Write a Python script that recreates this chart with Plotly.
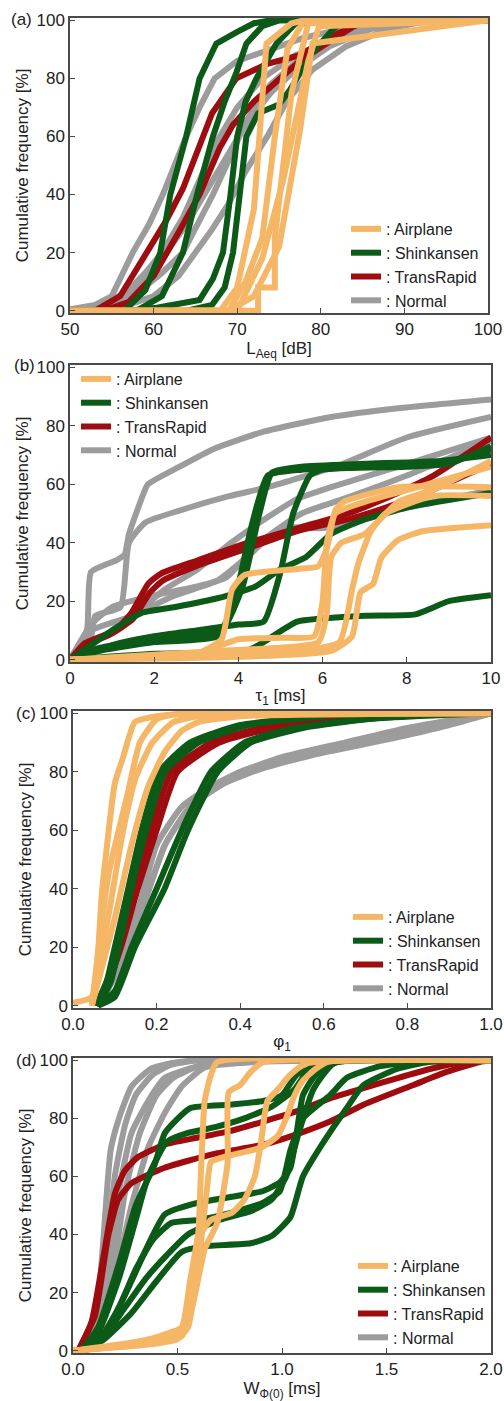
import plotly.graph_objects as go

# ---------------- data ----------------
CATEGORIES = ["Airplane", "Shinkansen", "TransRapid", "Normal"]
COLORS = {"Airplane": "#F5B666", "Shinkansen": "#0C5A17", "TransRapid": "#9E0C10", "Normal": "#9C9C9C"}
DRAW_ORDER = ["Normal", "TransRapid", "Shinkansen", "Airplane"]

# (a) LAeq [dB]
A_AIRPLANE = [
    ([50, 68, 70, 72, 73.5, 76.5, 78, 100], [0, 0, 8, 35, 92, 99, 100, 100]),
    ([50, 69, 71, 73, 74.5, 76, 78, 100], [0, 0, 10, 25, 60, 90, 100, 100]),
    ([50, 72.5, 72.5, 74.5, 74.5, 76.5, 78.5, 100], [0, 0, 8, 8, 25, 75, 99, 100]),
    ([50, 69, 72, 75, 77.5, 79, 100], [0, 0, 5, 22, 62, 92, 100]),
    ([50, 70, 73, 75.5, 78.5, 79.8, 100], [0, 0, 18, 45, 86, 98, 100]),
]
A_SHINKANSEN = [
    ([50, 56.5, 59, 60.8, 62, 63.9, 65.5, 67.5, 70, 72, 74, 100], [0, 0, 7, 20, 40, 60, 80, 92, 96, 99, 100, 100]),
    ([50, 58, 61, 63.5, 65.2, 67.1, 68.5, 69.9, 71.1, 73, 75, 100], [0, 0, 5, 20, 40, 60, 72, 82, 92, 98, 100, 100]),
    ([50, 57, 60.4, 65.5, 67.1, 68.3, 69.2, 70, 71, 72.3, 74.7, 77, 100], [0, 0, 1, 3.7, 11, 20, 40, 60, 72, 80, 92, 99, 100]),
    ([50, 64, 67, 68.5, 69.5, 70.3, 71.1, 72.5, 75, 76.3, 79, 81.5, 83, 100], [0, 0, 2, 8, 20, 40, 60, 68, 71, 76, 89, 97, 100, 100]),
]
A_TRANSRAPID = [
    ([50, 53, 56, 59.2, 61.5, 63.5, 65.3, 67, 69.9, 73.6, 77.5, 81, 85, 100], [0, 0, 5, 20, 31, 42, 56, 68, 80, 85, 88, 94, 99.5, 100]),
    ([50, 54, 57, 60, 63, 65.5, 67.9, 69.5, 72, 74.7, 77.5, 81.5, 84, 86, 100], [0, 0, 3, 12, 27, 40, 56, 64, 72, 79, 86, 93.6, 98, 100, 100]),
]
A_NORMAL = [
    ([50, 53, 55, 57.5, 59.5, 61.1, 62.5, 63.9, 65.5, 67.3, 70, 74, 78, 84, 90, 100], [0.5, 2, 5, 20, 30, 40, 50, 60, 70, 80, 86, 90, 94, 98, 100, 100]),
    ([50, 54, 57, 59, 61, 63.5, 65.5, 67.5, 70, 73, 77, 82, 88, 100], [0, 2, 7, 13, 20, 32, 45, 58, 70, 80, 88, 94, 99, 100]),
    ([50, 55, 58, 61, 63.5, 65, 67.1, 69.5, 71, 74, 78, 83, 89, 100], [0, 1.5, 6, 13, 20, 28, 40, 55, 65, 78, 88, 95, 99.5, 100]),
    ([50, 56, 60, 63, 65, 67, 69, 71, 73.6, 75.9, 79, 83, 88, 93, 100], [0, 1, 5, 12, 20, 28, 37, 48, 60, 72, 83, 91, 97, 100, 100]),
    ([50, 55, 58, 61, 64, 66, 68.5, 71, 74, 77, 81, 86, 92, 100], [0, 2, 8, 18, 30, 40, 52, 64, 75, 83, 91, 97, 100, 100]),
]

# (b) tau1 [ms]
B_AIRPLANE = [
    ([0, 3, 3.6, 3.85, 4.15, 5.4, 5.9, 6.1, 6.3, 6.5, 7.8, 10], [0, 2, 7, 24, 29, 31, 32, 38, 51, 54, 59, 59]),
    ([0, 3.5, 5.9, 6.1, 6.2, 6.45, 7, 7.8, 8.6, 10], [0, 3, 6, 16, 35, 40, 43, 54, 58, 68]),
    ([0, 5.4, 6.4, 6.7, 6.85, 7.15, 7.5, 8.6, 10], [0, 3, 6, 24, 33, 44, 50, 56, 56]),
    ([0, 6.2, 6.7, 6.9, 7.2, 7.4, 7.8, 8.4, 10], [0, 3, 8, 23, 26, 35, 41, 44, 46]),
    ([0, 3, 4, 5, 5.8, 6.0, 6.1, 6.3, 7, 8, 10], [0, 2, 7, 7.5, 8, 20, 40, 50, 54, 58, 66]),
]
B_SHINKANSEN = [
    ([0, 0.7, 2, 3.5, 3.9, 4.3, 4.7, 5.5, 7, 8.8, 10], [0, 3, 6, 8, 20, 45, 63, 65, 66, 67, 72]),
    ([0, 0.7, 2, 3.6, 4.1, 4.5, 4.8, 5.5, 7, 8.8, 10], [0, 4, 7, 10, 25, 50, 64, 66, 67, 68, 70]),
    ([0, 1, 2, 3, 4, 4.6, 5, 5.3, 5.7, 6, 8, 9, 10], [0, 5, 8, 10, 12, 13, 30, 50, 63, 65, 66, 67, 73]),
    ([0, 0.5, 1, 1.7, 2.5, 3.5, 4.4, 5, 5.6, 6.2, 7, 8, 10], [0, 5, 10, 16, 18, 21, 25, 31, 35, 43, 48, 52, 57]),
    ([0, 2, 4.2, 4.6, 5.4, 7, 8.2, 9, 10], [0, 2, 3, 6, 13, 15, 15.5, 20, 22]),
]
B_TRANSRAPID = [
    ([0, 0.36, 1.07, 1.46, 1.86, 2.17, 3.04, 4.23, 5.41, 6.6, 7.39, 8.58, 10], [0, 5.7, 10, 16, 26, 29.5, 34, 40, 45, 50, 54.5, 62.5, 76]),
    ([0, 0.4, 1, 1.5, 1.9, 2.2, 3, 4.2, 5.4, 6.6, 7.5, 8.6, 10], [0, 5, 9, 14, 23, 27, 32, 38, 44, 48, 52, 58, 67]),
]
B_NORMAL = [
    ([0, 0.4, 0.5, 1.1, 1.3, 1.4, 1.75, 1.85, 2.6, 3.4, 4.6, 6.2, 7.8, 10], [0, 10, 30, 34, 36, 43, 57, 60, 66, 72, 78, 83, 86, 89]),
    ([0, 0.5, 0.6, 1.2, 1.4, 1.8, 2.6, 3.8, 4.7, 6.3, 8, 10], [0, 8, 15, 18, 40, 47, 51, 56, 59, 66, 76, 83]),
    ([0, 0.5, 1.46, 2.25, 3.04, 3.83, 4.62, 5.4, 6.2, 7.8, 10], [0, 10, 15, 24, 31, 40, 48, 55, 59, 66, 76]),
    ([0, 0.5, 1.5, 2.5, 3.5, 4.2, 5, 6, 7, 8, 10], [0, 5, 15, 22, 27, 35, 45, 45, 48, 52, 58]),
    ([0, 0.5, 1, 2, 3, 3.7, 4.5, 5.5, 6.5, 8, 10], [0, 12, 18, 22, 25, 28, 40, 50, 55, 63, 75]),
]

# (c) phi1
C_AIRPLANE = [
    ([0, 0.045, 0.07, 0.1, 0.12, 0.148, 0.2, 0.3, 1], [1, 3, 40, 76, 85, 97, 99, 100, 100]),
    ([0.045, 0.085, 0.13, 0.16, 0.2, 0.26, 1], [0, 45, 72, 90, 98, 100, 100]),
    ([0.045, 0.1, 0.14, 0.18, 0.22, 0.26, 0.3, 0.4, 1], [0, 30, 55, 75, 87, 94, 97, 99, 100]),
    ([0.045, 0.09, 0.12, 0.15, 0.19, 0.24, 0.3, 1], [0, 35, 60, 78, 90, 97, 99, 100]),
]
C_SHINKANSEN = [
    ([0.055, 0.08, 0.1, 0.132, 0.164, 0.207, 0.28, 0.4, 0.6, 0.8, 1], [0, 8, 20, 40, 60, 80, 90, 96, 99, 100, 100]),
    ([0.06, 0.09, 0.11, 0.14, 0.175, 0.22, 0.3, 0.42, 0.6, 0.85, 1], [0, 8, 20, 40, 60, 80, 90, 96, 99, 100, 100]),
    ([0.06, 0.1, 0.148, 0.219, 0.275, 0.346, 0.425, 0.55, 0.7, 0.9, 1], [0, 3, 20, 40, 60, 80, 90, 95, 98, 100, 100]),
    ([0.06, 0.1, 0.14, 0.2, 0.26, 0.33, 0.41, 0.53, 0.7, 0.9, 1], [0, 5, 20, 40, 60, 80, 90, 95, 98, 99.5, 100]),
]
C_TRANSRAPID = [
    ([0.055, 0.08, 0.108, 0.144, 0.187, 0.235, 0.33, 0.45, 0.65, 1], [0, 8, 20, 40, 60, 80, 90, 95, 99, 100]),
    ([0.055, 0.085, 0.115, 0.155, 0.2, 0.25, 0.35, 0.48, 0.7, 1], [0, 8, 20, 40, 60, 80, 90, 95, 99, 100]),
]
C_NORMAL = [
    ([0.06, 0.1, 0.124, 0.16, 0.2, 0.26, 0.33, 0.4, 0.5, 0.65, 0.8, 1], [0, 10, 20, 35, 55, 68, 75, 80, 85, 90, 95, 100]),
    ([0.06, 0.1, 0.13, 0.17, 0.22, 0.28, 0.36, 0.45, 0.58, 0.75, 0.9, 1], [0, 10, 20, 35, 55, 68, 76, 81, 86, 91, 96, 100]),
    ([0.06, 0.1, 0.13, 0.17, 0.22, 0.28, 0.36, 0.45, 0.6, 0.78, 1], [0, 10, 20, 35, 55, 68, 76, 82, 88, 93, 100]),
]

# (d) W_phi(0) [ms]
D_AIRPLANE = [
    ([0, 0.28, 0.44, 0.52, 0.56, 0.6, 0.61, 0.63, 0.66, 0.69, 2], [0, 2, 5.6, 8, 24, 41, 57.6, 86, 95, 99.4, 100]),
    ([0, 0.3, 0.52, 0.57, 0.63, 0.69, 0.74, 0.745, 0.8, 0.85, 0.91, 2], [0, 3, 7, 15, 35, 44, 65, 89, 91.5, 96, 99.4, 100]),
    ([0, 0.4, 0.52, 0.58, 0.61, 0.66, 0.76, 0.82, 0.87, 0.9, 0.93, 0.98, 1.04, 1.12, 2], [0, 3, 5, 20, 40, 45, 47.5, 52, 60, 72, 86, 90, 95, 99, 100]),
    ([0, 0.35, 0.5, 0.55, 0.6, 0.64, 0.66, 0.72, 0.9, 0.98, 1.02, 1.06, 1.1, 1.16, 1.22, 2], [0, 2, 4, 8, 30, 55, 65, 66.7, 70, 74, 80, 88, 93, 97, 99.5, 100]),
]
D_SHINKANSEN = [
    ([0.04, 0.12, 0.22, 0.3, 0.39, 0.44, 0.56, 0.75, 0.91, 1.0, 1.07, 1.17, 1.3, 2], [0, 8, 30, 50, 64, 75, 83.5, 84.7, 86, 88, 95, 98, 100, 100]),
    ([0.04, 0.12, 0.22, 0.3, 0.36, 0.45, 0.55, 0.68, 0.82, 0.95, 1.06, 1.13, 1.2, 2], [0, 6, 25, 45, 60, 72, 75, 77, 80, 84, 90, 97, 99.5, 100]),
    ([0.05, 0.12, 0.2, 0.28, 0.35, 0.44, 0.6, 0.76, 0.91, 0.99, 1.04, 1.07, 1.1, 1.15, 1.23, 2], [0, 3, 12, 24, 35, 47, 51, 53, 55, 58, 63, 75, 88, 94, 99, 100]),
    ([0.05, 0.12, 0.22, 0.3, 0.38, 0.47, 0.6, 0.76, 0.91, 0.99, 1.04, 1.1, 1.23, 1.31, 1.47, 1.63, 2], [0, 3, 15, 28, 38, 44, 45, 47.5, 51, 55, 69, 80, 88, 94, 98, 99.5, 100]),
    ([0.06, 0.15, 0.28, 0.4, 0.52, 0.63, 0.85, 0.95, 1.04, 1.1, 1.2, 1.31, 1.39, 1.55, 1.7, 2], [0, 4, 13, 24, 34, 36, 37, 39.5, 46, 60, 72, 83.6, 91.5, 97, 99.4, 100]),
    ([0.05, 0.15, 0.25, 0.35, 0.45, 0.55, 0.7, 0.85, 0.95, 1.02, 1.08, 1.15, 1.25, 2], [0, 5, 15, 25, 33, 40, 45, 48, 52, 60, 75, 90, 99, 100]),
]
D_TRANSRAPID = [
    ([0.025, 0.089, 0.152, 0.2, 0.248, 0.311, 0.438, 0.597, 0.756, 0.914, 1.073, 1.232, 1.39, 1.549, 1.708, 1.867, 2], [0, 10, 35, 54, 62, 66.7, 71, 73.4, 75.7, 79, 82.5, 87, 90.4, 93.8, 97, 99.4, 100]),
    ([0.025, 0.105, 0.168, 0.216, 0.279, 0.438, 0.676, 0.914, 1.073, 1.232, 1.39, 1.629, 1.787, 1.946, 2], [0, 12, 39.5, 52, 57.6, 63, 67.8, 71, 74.6, 79, 84.7, 91.5, 96, 99.4, 100]),
]
D_NORMAL = [
    ([0.03, 0.06, 0.12, 0.18, 0.22, 0.28, 0.37, 0.47, 0.6, 2], [0, 3, 18, 69, 80, 91, 97, 99, 100, 100]),
    ([0.04, 0.08, 0.14, 0.2, 0.25, 0.3, 0.38, 0.47, 0.6, 2], [0, 3, 20, 60, 78, 88, 95, 98.5, 100, 100]),
    ([0.05, 0.1, 0.17, 0.22, 0.28, 0.36, 0.44, 0.6, 0.8, 2], [0, 3, 25, 55, 75, 86, 94, 98, 100, 100]),
    ([0.05, 0.1, 0.18, 0.25, 0.32, 0.4, 0.48, 0.6, 0.8, 2], [0, 3, 22, 55, 75, 88, 94, 98, 100, 100]),
    ([0.05, 0.1, 0.2, 0.28, 0.36, 0.44, 0.52, 0.63, 0.9, 2], [0, 3, 25, 50, 70, 82, 91, 97.5, 99.5, 100]),
]

PANELS = [
    {"label": "(a)", "xtitle": "L<sub>Aeq</sub> [dB]", "xrange": [50, 100],
     "xticks": [50, 60, 70, 80, 90, 100], "xticktext": ["50", "60", "70", "80", "90", "100"],
     "data": {"Airplane": A_AIRPLANE, "Shinkansen": A_SHINKANSEN, "TransRapid": A_TRANSRAPID, "Normal": A_NORMAL}},
    {"label": "(b)", "xtitle": "τ<sub>1</sub> [ms]", "xrange": [0, 10],
     "xticks": [0, 2, 4, 6, 8, 10], "xticktext": ["0", "2", "4", "6", "8", "10"],
     "data": {"Airplane": B_AIRPLANE, "Shinkansen": B_SHINKANSEN, "TransRapid": B_TRANSRAPID, "Normal": B_NORMAL}},
    {"label": "(c)", "xtitle": "φ<sub>1</sub>", "xrange": [0, 1],
     "xticks": [0, 0.2, 0.4, 0.6, 0.8, 1.0], "xticktext": ["0.0", "0.2", "0.4", "0.6", "0.8", "1.0"],
     "data": {"Airplane": C_AIRPLANE, "Shinkansen": C_SHINKANSEN, "TransRapid": C_TRANSRAPID, "Normal": C_NORMAL}},
    {"label": "(d)", "xtitle": "W<sub>Φ(0)</sub> [ms]", "xrange": [0, 2],
     "xticks": [0, 0.5, 1.0, 1.5, 2.0], "xticktext": ["0.0", "0.5", "1.0", "1.5", "2.0"],
     "data": {"Airplane": D_AIRPLANE, "Shinkansen": D_SHINKANSEN, "TransRapid": D_TRANSRAPID, "Normal": D_NORMAL}},
]
Y_TICKS = [0, 20, 40, 60, 80, 100]

# ---------------- layout geometry (pixels) ----------------
W, H = 504, 1401
ML, MR = 70, 11
PW = W - ML - MR
# plot rectangles: left, right, top, bottom (px)
RECTS = [(70, 488, 18, 313), (70, 491, 365, 662), (73, 491, 711, 1008), (73, 491, 1058, 1353)]
LEGEND_POS = [(346, 212), (76, 362), (348, 900), (353, 1249)]  # legend top-left px
LABEL_POS = [(9, 20), (12, 366), (14, 713), (14, 1060)]
SPLINE = [False, True, True, True]

FONT = "Liberation Sans, Arial, sans-serif"
TXT = "#222222"
FRAME = "#4a4a4a"
LW = 6
RANK = {c: i + 1 for i, c in enumerate(CATEGORIES)}


def px_x(px):
    return (px - ML) / PW


def px_y(py):
    return 1 - py / H


fig = go.Figure()
layout = dict(width=W, height=H, margin=dict(l=ML, r=MR, t=0, b=0, autoexpand=False),
              paper_bgcolor="white", plot_bgcolor="white",
              font=dict(family=FONT, color=TXT), annotations=[])

for i, p in enumerate(PANELS):
    k = i + 1
    xa = "x" if k == 1 else f"x{k}"
    ya = "y" if k == 1 else f"y{k}"
    lg = "legend" if k == 1 else f"legend{k}"
    for cat in DRAW_ORDER:
        for j, (xs, ys) in enumerate(p["data"][cat]):
            line = dict(color=COLORS[cat], width=LW)
            if SPLINE[i]:
                line.update(shape="spline", smoothing=0.5)
            fig.add_trace(go.Scatter(
                x=xs, y=ys, mode="lines", line=line, name=": " + cat,
                showlegend=(j == 0), legend=lg, legendrank=RANK[cat],
                xaxis=xa, yaxis=ya, hoverinfo="skip"))
    l, r, t, b = RECTS[i]
    common = dict(showline=True, linecolor=FRAME, linewidth=1.5, mirror=True,
                  ticks="inside", ticklen=5, tickcolor=FRAME, tickwidth=1,
                  showgrid=False, zeroline=False, automargin=False,
                  tickfont=dict(size=17, color=TXT, family=FONT))
    layout["xaxis" if k == 1 else f"xaxis{k}"] = dict(
        common, domain=[max(0, px_x(l)), min(1, px_x(r))], range=p["xrange"],
        tickvals=p["xticks"], ticktext=p["xticktext"], anchor=ya,
        title=dict(text=p["xtitle"], font=dict(size=17, color=TXT, family=FONT), standoff=2))
    layout["yaxis" if k == 1 else f"yaxis{k}"] = dict(
        common, domain=[px_y(b), px_y(t)], range=[-0.8, 100.8],
        tickvals=Y_TICKS, ticktext=[str(v) for v in Y_TICKS], anchor=xa,
        title=dict(text="Cumulative frequency [%]", font=dict(size=17, color=TXT, family=FONT), standoff=4))
    lx, ly = LEGEND_POS[i]
    layout[lg] = dict(x=px_x(lx), y=px_y(ly), xanchor="left", yanchor="top",
                      bgcolor="rgba(0,0,0,0)", borderwidth=0,
                      font=dict(size=16, color=TXT, family=FONT),
                      tracegroupgap=0, itemwidth=30, traceorder="normal")
    ax, ay = LABEL_POS[i]
    layout["annotations"].append(dict(
        text=p["label"], x=px_x(ax), y=px_y(ay), xref="paper", yref="paper",
        xanchor="left", yanchor="middle", showarrow=False,
        font=dict(size=17, color=TXT, family=FONT)))

fig.update_layout(**layout)
fig.write_html("out.html",
               config={"displayModeBar": False},
               post_script="document.body.style.margin='0';document.body.style.overflow='hidden';")
